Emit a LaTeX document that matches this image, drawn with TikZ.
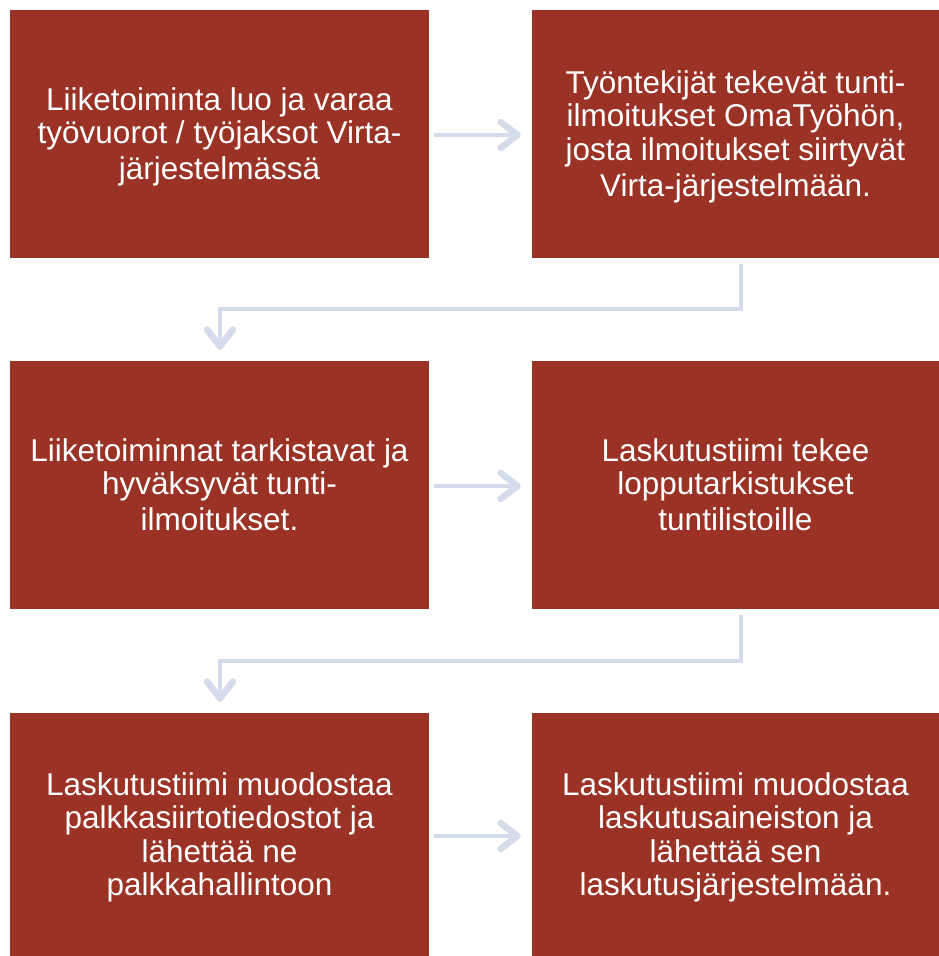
\documentclass[tikz,border=0pt]{standalone}
\usepackage{fontspec}
\setmainfont{Liberation Sans}
\usetikzlibrary{arrows.meta}
\definecolor{boxred}{RGB}{155,50,38}
\definecolor{connblue}{RGB}{212,219,234}
\newcommand\lnstrut{\rule[-0.212em]{0pt}{1.117em}}
\tikzset{
  stepbox/.style={rectangle, fill=boxred, draw=none, inner sep=0pt, text=white, align=center,
    font=\fontsize{31.5}{33.3}\selectfont},
  conn/.style={draw=connblue, line width=4.5pt,
    -{Straight Barb[length=17pt, width=26pt, line width=6.5pt, round]}}
}
\begin{document}
\begin{tikzpicture}[x=1pt,y=-1pt]
\useasboundingbox (0,0) rectangle (939,956);
\node[stepbox, minimum width=419pt, minimum height=248pt] (a) at (219.5,134) {\lnstrut Liiketoiminta luo ja varaa\\työvuorot / työjaksot Virta-\\järjestelmässä\lnstrut};
\node[stepbox, minimum width=407pt, minimum height=248pt] (b) at (735.5,134) {\lnstrut Työntekijät tekevät tunti-\\ilmoitukset OmaTyöhön,\\josta ilmoitukset siirtyvät\\Virta-järjestelmään.\lnstrut};
\node[stepbox, minimum width=419pt, minimum height=248pt] (c) at (219.5,485) {\lnstrut Liiketoiminnat tarkistavat ja\\hyväksyvät tunti-\\ilmoitukset.\lnstrut};
\node[stepbox, minimum width=407pt, minimum height=248pt] (d) at (735.5,485) {\lnstrut Laskutustiimi tekee\\lopputarkistukset\\tuntilistoille\lnstrut};
\node[stepbox, minimum width=419pt, minimum height=243pt] (e) at (219.5,834.5) {\lnstrut Laskutustiimi muodostaa\\palkkasiirtotiedostot ja\\lähettää ne\\palkkahallintoon\lnstrut};
\node[stepbox, minimum width=407pt, minimum height=243pt] (f) at (735.5,834.5) {\lnstrut Laskutustiimi muodostaa\\laskutusaineiston ja\\lähettää sen\\laskutusjärjestelmään.\lnstrut};
\draw[conn] ([xshift=5pt,yshift=-1pt]a.east) -- ([xshift=-11pt,yshift=-1pt]b.west);
\draw[conn] ([xshift=5pt,yshift=-1pt]c.east) -- ([xshift=-11pt,yshift=-1pt]d.west);
\draw[conn] ([xshift=5pt,yshift=-1.5pt]e.east) -- ([xshift=-11pt,yshift=-1.5pt]f.west);
\draw[conn] ([xshift=5.5pt,yshift=-6pt]b.south) -- ++(0,45) -| ([xshift=0.5pt,yshift=11pt]c.north);
\draw[conn] ([xshift=5.5pt,yshift=-6pt]d.south) -- ++(0,46) -| ([xshift=0.5pt,yshift=11pt]e.north);
\end{tikzpicture}
\end{document}
